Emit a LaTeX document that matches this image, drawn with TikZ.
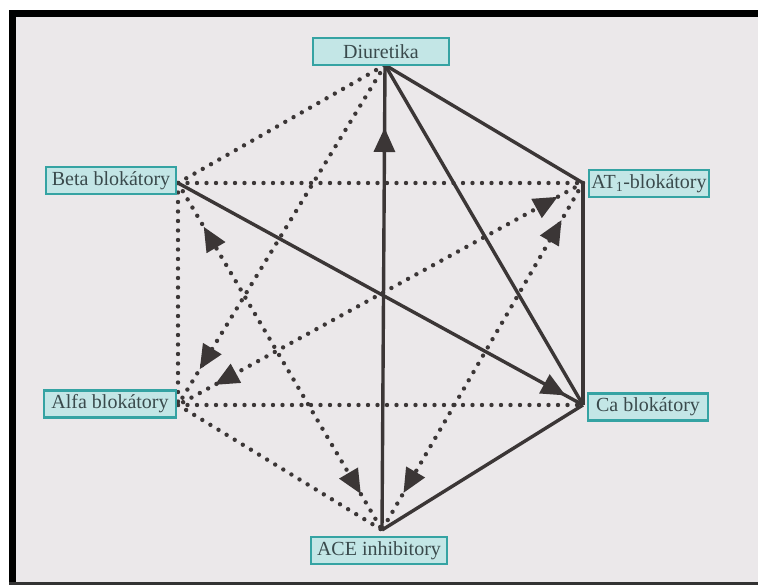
\documentclass[tikz,border=0pt]{standalone}
\usepackage{fontspec}
\setmainfont{Liberation Serif}
\usetikzlibrary{decorations.markings}
\definecolor{bg}{HTML}{EBE8EA}
\definecolor{ink}{HTML}{3B3636}
\definecolor{boxfill}{HTML}{C3E6E6}
\definecolor{boxline}{HTML}{35A3A3}
\definecolor{txt}{HTML}{3A4A4C}
\begin{document}
\begin{tikzpicture}[x=1pt,y=-1pt,
  lbl/.style={draw=boxline, line width=2.4pt, fill=boxfill, text=txt,
    font=\fontsize{20}{20}\selectfont, inner sep=0pt, minimum height=27pt},
  solidline/.style={draw=ink, line width=3.4pt},
  dotline/.style={draw=ink, line width=4.4pt, line cap=round, dash pattern=on 0pt off 9.5pt},
  fwdtip/.style={postaction={decorate, decoration={markings,
    mark=at position -#1 with {\fill[ink] (0pt,0pt) -- (-24pt,11pt) -- (-24pt,-11pt) -- cycle;}}}},
  bwdtip/.style={postaction={decorate, decoration={markings,
    mark=at position #1 with {\fill[ink] (0pt,0pt) -- (24pt,11pt) -- (24pt,-11pt) -- cycle;}}}},
]
\useasboundingbox (0,0) rectangle (758,585);
\fill[white] (0,0) rectangle (758,585);
\fill[bg] (16,17) rectangle (758,582);
\fill[black] (9,10) rectangle (16,585);
\fill[black] (9,10) rectangle (758,17);
\fill[black!80] (9,582) rectangle (758,585);

\coordinate (d) at (385,65);
\coordinate (u) at (583,183);
\coordinate (c) at (583,405);
\coordinate (a) at (382,530);
\coordinate (l) at (178,405);
\coordinate (b) at (178,183);

% dotted connections
\draw[dotline] (b) -- (d);
\draw[dotline] (b) -- (u);
\draw[dotline] (b) -- (l);
\draw[dotline] (l) -- (c);
\draw[dotline] (l) -- (a);
\draw[dotline, fwdtip=42pt] (d) -- (l);
\draw[dotline, bwdtip=51pt, fwdtip=42pt] (b) -- (a);
\draw[dotline, bwdtip=29pt, fwdtip=42pt] (u) -- (l);
\draw[dotline, bwdtip=43pt, fwdtip=43pt] (u) -- (a);

% solid connections
\draw[solidline] (d) -- (u);
\draw[solidline] (d) -- (c);
\draw[solidline] (u) -- (c);
\draw[solidline] (c) -- (a);
\draw[solidline, fwdtip=63pt] (a) -- (d);
\draw[solidline, fwdtip=20pt] (b) -- (c);

% labels
\node[lbl, minimum width=136pt] (ndiu) at (381,51.5) {Diuretika};
\node[lbl, minimum width=130pt] (nbeta) at (111,180.5) {Beta blokátory};
\node[lbl, minimum width=120pt] (nat) at (649,183.5) {AT\textsubscript{1}-blokátory};
\node[lbl, minimum width=132pt] (nalfa) at (110,404) {Alfa blokátory};
\node[lbl, minimum width=120pt] (nca) at (648,407) {Ca blokátory};
\node[lbl, minimum width=136pt] (nace) at (379,550.5) {ACE inhibitory};
\end{tikzpicture}
\end{document}
